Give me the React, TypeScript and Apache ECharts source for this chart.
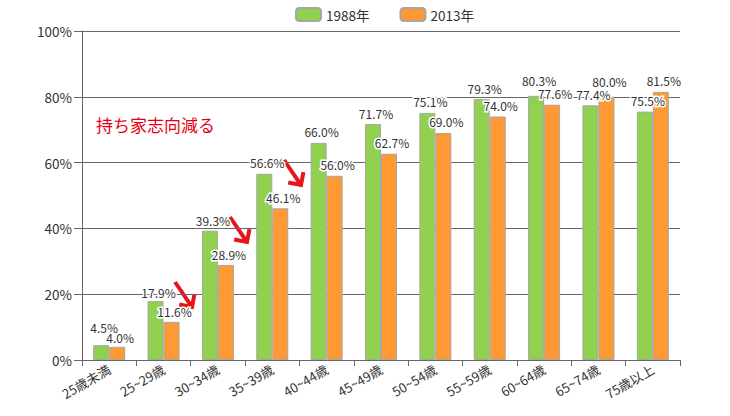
import React, { useEffect, useRef } from "react";
import * as echarts from "echarts";

const categories = ["25歳未満", "25~29歳", "30~34歳", "35~39歳", "40~44歳", "45~49歳", "50~54歳", "55~59歳", "60~64歳", "65~74歳", "75歳以上"];
const values1988 = [4.5, 17.9, 39.3, 56.6, 66.0, 71.7, 75.1, 79.3, 80.3, 77.4, 75.5];
const values2013 = [4.0, 11.6, 28.9, 46.1, 56.0, 62.7, 69.0, 74.0, 77.6, 80.0, 81.5];
const seriesNames = ["1988年", "2013年"];
const annotation = "持ち家志向減る";
const arrowTails = [[175, 282], [230, 217], [284, 160]];

const FONT = "'Noto Sans CJK JP', 'Noto Sans', sans-serif";

function arrow(tx: number, ty: number) {
  const dx = 17, dy = 25;
  const tipX = tx + dx, tipY = ty + dy;
  const len = Math.sqrt(dx * dx + dy * dy);
  const bx = -dx / len, by = -dy / len;
  const rot = (a: number) => {
    const c = Math.cos(a), s = Math.sin(a);
    return [bx * c - by * s, bx * s + by * c];
  };
  const armLen = 13;
  const a1 = rot((45 * Math.PI) / 180);
  const a2 = rot((-45 * Math.PI) / 180);
  const style = { stroke: "#e8141b", lineWidth: 4, fill: null, lineJoin: "miter", lineCap: "butt" };
  return [
    { type: "polyline", shape: { points: [[tx, ty], [tipX - bx * 1, tipY - by * 1]] }, style },
    {
      type: "polyline",
      shape: { points: [[tipX + a1[0] * armLen, tipY + a1[1] * armLen], [tipX, tipY], [tipX + a2[0] * armLen, tipY + a2[1] * armLen]] },
      style,
    },
  ];
}

// extra vertical label lift per bar (style only)
const liftGreen: Record<number, number> = { 0: 7, 1: -2, 2: -1, 8: 4 };
const liftOrange: Record<number, number> = { 0: -2, 1: -1, 2: -1, 9: 4 };

export default function App() {
  const ref = useRef<HTMLDivElement>(null);
  useEffect(() => {
    if (!ref.current) return;
    const chart = echarts.init(ref.current, null, { renderer: "svg" });
    const labelBase = {
      show: true,
      position: "top",
      distance: 5,
      fontSize: 12,
      color: "#333",
      fontFamily: FONT,
      textBorderColor: "#fff",
      textBorderWidth: 3,
      formatter: (p: any) => p.value.toFixed(1) + "%",
    };
    const mk = (vals: number[], lift: Record<number, number>) =>
      vals.map((v, i) => ({ value: v, label: { offset: [3, -(lift[i] || 0)] } }));
    const graphics: any[] = [];
    arrowTails.forEach(([x, y]) => graphics.push(...arrow(x, y)));
    graphics.push({
      type: "text",
      left: 96,
      top: 116,
      style: { text: annotation, fill: "#e60012", font: `17px ${FONT}` },
    });
    chart.setOption({
      animation: false,
      textStyle: { fontFamily: FONT },
      legend: {
        top: 2,
        left: 290,
        itemWidth: 25,
        itemHeight: 13,
        itemGap: 30,
        textStyle: { fontSize: 13.5, color: "#333", fontFamily: FONT },
        data: seriesNames,
      },
      grid: { left: 82, right: 50, top: 31, bottom: 56 },
      xAxis: {
        type: "category",
        data: categories,
        axisLine: { lineStyle: { color: "#666" } },
        axisTick: { show: true, length: 6, lineStyle: { color: "#666" } },
        axisLabel: { rotate: 30, fontSize: 13, color: "#333", margin: 8, interval: 0, fontFamily: FONT },
      },
      yAxis: {
        type: "value",
        min: 0,
        max: 100,
        interval: 20,
        axisLine: { show: true, lineStyle: { color: "#666" } },
        axisTick: { show: true, length: 8, lineStyle: { color: "#666" } },
        axisLabel: { formatter: "{value}%", fontSize: 13.5, color: "#333", margin: 10, fontFamily: FONT },
        splitLine: { lineStyle: { color: "#666", width: 1 } },
      },
      series: [
        {
          name: seriesNames[0],
          type: "bar",
          data: mk(values1988, liftGreen),
          barWidth: 16,
          barGap: "0%",
          itemStyle: { color: "#92d050", borderColor: "#a6a6a6", borderWidth: 1 },
          label: labelBase,
          z: 2,
        },
        {
          name: seriesNames[1],
          type: "bar",
          data: mk(values2013, liftOrange),
          barWidth: 16,
          barGap: "0%",
          itemStyle: { color: "#ff9933", borderColor: "#a6a6a6", borderWidth: 1 },
          label: labelBase,
          z: 2,
        },
      ],
      graphic: graphics,
    });
    return () => chart.dispose();
  }, []);
  return <div ref={ref} style={{ width: 730, height: 416, position: "absolute", left: 0, top: 0 }} />;
}
